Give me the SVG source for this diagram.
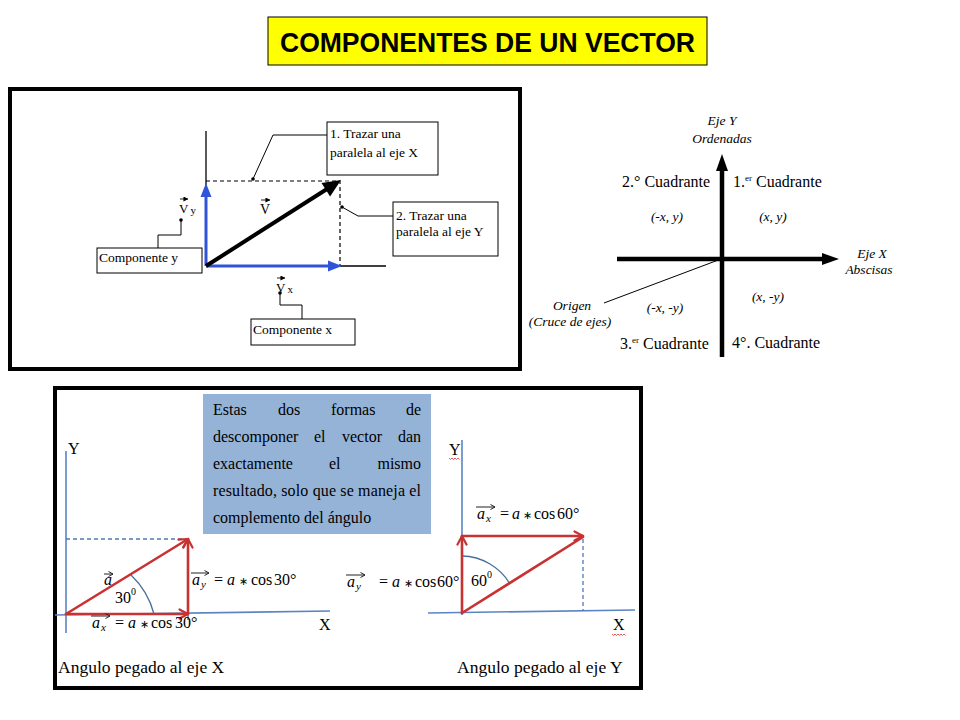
<svg xmlns="http://www.w3.org/2000/svg" width="960" height="720" viewBox="0 0 960 720">
<style>
.frame{fill:#fff;stroke:#000;stroke-width:4}
.box{fill:#fff;stroke:#000;stroke-width:1}
.lead{fill:none;stroke:#000;stroke-width:1}
.dash{fill:none;stroke:#000;stroke-width:1.2;stroke-dasharray:4 3}
.tm{font-family:"Liberation Serif","Times New Roman",serif;fill:#000}
.it{font-style:italic}
.st{font-family:"DejaVu Sans",sans-serif;font-size:11px}
.ax{stroke:#5b84c4;stroke-width:1.6;fill:none}
.bdash{stroke:#4f78b8;stroke-width:1.3;stroke-dasharray:4 3;fill:none}
.red{stroke:#c83232;stroke-width:2.6;fill:none;stroke-linecap:round}
.arc{stroke:#4a6f9a;stroke-width:1.3;fill:none}
.ovr{stroke:#222;stroke-width:1;fill:none}
.sq{stroke:#e03030;stroke-width:0.8;fill:none}
</style>
<defs>
<marker id="chev" viewBox="0 0 12 12" refX="10.5" refY="6" markerWidth="12" markerHeight="12" markerUnits="userSpaceOnUse" orient="auto">
<path d="M2,1.5 L10.5,6 L2,10.5" fill="none" stroke="#c83232" stroke-width="2.2" stroke-linecap="round" stroke-linejoin="round"/>
</marker>
<marker id="ov" viewBox="0 0 6 6" refX="5.5" refY="3" markerWidth="6" markerHeight="6" markerUnits="userSpaceOnUse" orient="auto">
<path d="M1,0.5 L5.5,3 L1,5.5" fill="none" stroke="#222" stroke-width="1"/>
</marker>
<marker id="ovf" viewBox="0 0 6 6" refX="5.5" refY="3" markerWidth="5" markerHeight="5" markerUnits="userSpaceOnUse" orient="auto">
<path d="M0,0 L6,3 L0,6 Z" fill="#000"/>
</marker>
</defs>
<rect width="960" height="720" fill="#fff"/>

<g id="title">
<rect x="268" y="17" width="439" height="48" fill="#ffff00" stroke="#000" stroke-width="1"/>
<text x="487.5" y="52" text-anchor="middle" font-family="'Liberation Sans',Arial,sans-serif" font-weight="bold" font-size="27" textLength="415" lengthAdjust="spacingAndGlyphs">COMPONENTES DE UN VECTOR</text>
</g>

<g id="panel-components">
<rect class="frame" x="10" y="89" width="510" height="280"/>
<line x1="206" y1="131" x2="206" y2="185" stroke="#000" stroke-width="1.3"/>
<line x1="340" y1="266" x2="386" y2="266" stroke="#000" stroke-width="1.3"/>
<path class="dash" d="M206,181 H340 V266"/>
<g id="vy">
<line x1="206" y1="266" x2="206" y2="195" stroke="#2f54d9" stroke-width="3"/>
<polygon points="206,183 200.5,197 211.5,197" fill="#2f54d9"/>
</g>
<g id="vx">
<line x1="206" y1="266" x2="330" y2="266" stroke="#2f54d9" stroke-width="3"/>
<polygon points="342,266 328,260.5 328,271.5" fill="#2f54d9"/>
</g>
<g id="v">
<line x1="206" y1="266" x2="327" y2="189" stroke="#000" stroke-width="4"/>
<polygon points="341,180 330.1,196.4 321.5,183" fill="#000"/>
</g>
<text class="tm" x="260" y="214" font-size="14">V</text>
<line class="ovr" x1="261" y1="200" x2="270" y2="200" marker-end="url(#ovf)"/>
<text class="tm" x="179" y="213" font-size="13">V<tspan font-size="11" dx="2" dy="1">y</tspan></text>
<line class="ovr" x1="180" y1="199" x2="188" y2="199" marker-end="url(#ovf)"/>
<text class="tm" x="276" y="292" font-size="13">V<tspan font-size="11" dx="2" dy="1">x</tspan></text>
<line class="ovr" x1="277" y1="278" x2="285" y2="278" marker-end="url(#ovf)"/>
<g id="note-compy">
<rect class="box" x="97" y="248" width="105" height="25"/>
<text class="tm" x="99" y="262" font-size="13.5">Componente y</text>
</g>
<g id="note-compx">
<rect class="box" x="251" y="319" width="104" height="26"/>
<text class="tm" x="253" y="334" font-size="13.5">Componente x</text>
</g>
<g id="note-1">
<rect class="box" x="327" y="122" width="111" height="53"/>
<text class="tm" x="330" y="138" font-size="13.5">1. Trazar una</text>
<text class="tm" x="330" y="157" font-size="13.5">paralela al eje X</text>
</g>
<g id="note-2">
<rect class="box" x="393" y="202" width="105" height="54"/>
<text class="tm" x="396" y="220" font-size="13.5">2. Trazar una</text>
<text class="tm" x="396" y="236" font-size="13.5">paralela al eje Y</text>
</g>
</g>

<g id="panel-quadrants">
<line x1="722" y1="357" x2="722" y2="168" stroke="#000" stroke-width="4.5"/>
<polygon points="722,154 716,171 728,171" fill="#000"/>
<line x1="617" y1="259" x2="825" y2="259" stroke="#000" stroke-width="4.5"/>
<polygon points="839,259 822,253 822,265" fill="#000"/>
<g class="tm it" font-size="13.5" text-anchor="middle">
<text x="722" y="125">Eje Y</text>
<text x="722" y="143">Ordenadas</text>
<text x="872" y="258">Eje X</text>
<text x="869" y="274">Abscisas</text>
<text x="572" y="310">Origen</text>
<text x="570" y="326">(Cruce de ejes)</text>
<text x="667" y="221">(-x, y)</text>
<text x="773" y="221">(x, y)</text>
<text x="665" y="312">(-x, -y)</text>
<text x="768" y="301">(x, -y)</text>
</g>
<g class="tm" font-size="16">
<text x="622" y="187">2.° Cuadrante</text>
<text x="733" y="187">1.<tspan font-size="9" dy="-6">er</tspan><tspan dy="6"> Cuadrante</tspan></text>
<text x="620" y="349">3.<tspan font-size="9" dy="-6">er</tspan><tspan dy="6"> Cuadrante</tspan></text>
<text x="732" y="348">4°. Cuadrante</text>
</g>
</g>

<g id="panel-methods">
<rect class="frame" x="55" y="388" width="586" height="300"/>
<g id="note-box">
<rect x="203" y="394" width="228" height="140" fill="#95b3d7"/>
<g class="tm" font-size="16" fill="#1a1a1a">
<text x="213" y="415">Estas</text><text x="278" y="415">dos</text><text x="331" y="415">formas</text><text x="421" y="415" text-anchor="end">de</text>
<text x="213" y="442">descomponer</text><text x="314" y="442">el</text><text x="342" y="442">vector</text><text x="421" y="442" text-anchor="end">dan</text>
<text x="213" y="469">exactamente</text><text x="329" y="469">el</text><text x="421" y="469" text-anchor="end">mismo</text>
<text x="213" y="496" textLength="208" lengthAdjust="spacing">resultado, solo que se maneja el</text>
<text x="213" y="523">complemento del ángulo</text>
</g>
</g>

<g id="graph-x">
<line class="ax" x1="66" y1="451" x2="66" y2="633"/>
<line class="ax" x1="55" y1="615" x2="330" y2="611"/>
<text class="tm" x="68" y="454" font-size="16">Y</text>
<text class="tm" x="319" y="630" font-size="16">X</text>
<path class="bdash" d="M66,539 H186"/>
<line class="ax" x1="188" y1="614" x2="188" y2="620"/>
<path class="arc" d="M131,575 A82,82 0 0 1 154,614"/>
<line class="red" x1="66" y1="614" x2="188" y2="539" marker-end="url(#chev)"/>
<line class="red" x1="66" y1="614" x2="188" y2="614" marker-end="url(#chev)"/>
<line class="red" x1="188" y1="614" x2="188" y2="539" marker-end="url(#chev)"/>
<text class="tm it" x="104" y="585" font-size="16">a</text>
<line class="ovr" x1="104" y1="574" x2="113" y2="574" marker-end="url(#ov)"/>
<text class="tm" x="115" y="603" font-size="16">30<tspan font-size="10" dy="-8">0</tspan></text>
<text class="tm" font-size="16" y="585"><tspan class="it" x="192">a</tspan><tspan class="it" font-size="11" x="201" dy="3">y</tspan><tspan x="214" dy="-3">=</tspan><tspan class="it" x="227">a</tspan><tspan class="st" x="239">∗</tspan><tspan x="251">cos</tspan><tspan x="274">30°</tspan></text>
<line class="ovr" x1="191" y1="573" x2="209" y2="573" marker-end="url(#ov)"/>
<text class="tm" font-size="16" y="628"><tspan class="it" x="92">a</tspan><tspan class="it" font-size="11" x="101" dy="3">x</tspan><tspan x="115" dy="-3">=</tspan><tspan class="it" x="128">a</tspan><tspan class="st" x="140">∗</tspan><tspan x="151">cos</tspan><tspan x="175">30°</tspan></text>
<line class="ovr" x1="91" y1="616" x2="110" y2="616" marker-end="url(#ov)"/>
<text class="tm" x="58" y="673" font-size="17.5">Angulo pegado al eje X</text>
</g>

<g id="graph-y">
<line class="ax" x1="462" y1="440" x2="462" y2="615"/>
<line class="ax" x1="428" y1="613" x2="635" y2="610"/>
<text class="tm" x="449" y="455" font-size="16">Y</text>
<path class="sq" d="M449,458 l1.5,1.5 l1.5,-1.5 l1.5,1.5 l1.5,-1.5 l1.5,1.5 l1.5,-1.5 l1.5,1.5"/>
<text class="tm" x="613" y="630" font-size="16">X</text>
<path class="sq" d="M612,634 l1.5,1.5 l1.5,-1.5 l1.5,1.5 l1.5,-1.5 l1.5,1.5 l1.5,-1.5 l1.5,1.5 l1.5,-1.5 l1.5,1.5"/>
<path class="bdash" d="M583,539 V611"/>
<path class="arc" d="M462,556 A57,57 0 0 1 510,584"/>
<line class="red" x1="462" y1="613" x2="583" y2="537"/>
<line class="red" x1="462" y1="613" x2="462" y2="536" marker-end="url(#chev)"/>
<line class="red" x1="462" y1="536" x2="583" y2="536" marker-end="url(#chev)"/>
<text class="tm" x="471" y="586" font-size="16">60<tspan font-size="10" dy="-8">0</tspan></text>
<text class="tm" font-size="16" y="587"><tspan class="it" x="347">a</tspan><tspan class="it" font-size="11" x="356" dy="3">y</tspan><tspan x="379" dy="-3">=</tspan><tspan class="it" x="392">a</tspan><tspan class="st" x="404">∗</tspan><tspan x="415">cos</tspan><tspan x="437">60°</tspan></text>
<line class="ovr" x1="346" y1="575" x2="365" y2="575" marker-end="url(#ov)"/>
<text class="tm" font-size="16" y="519"><tspan class="it" x="477">a</tspan><tspan class="it" font-size="11" x="486" dy="3">x</tspan><tspan x="500" dy="-3">=</tspan><tspan class="it" x="512">a</tspan><tspan class="st" x="523">∗</tspan><tspan x="534">cos</tspan><tspan x="557">60°</tspan></text>
<line class="ovr" x1="476" y1="507" x2="495" y2="507" marker-end="url(#ov)"/>
<text class="tm" x="457" y="673" font-size="17.5">Angulo pegado al eje Y</text>
</g>
</g>

<g id="connectors">
<path class="lead" d="M181,220 V235 H158 V248"/>
<circle cx="181" cy="220" r="1.8" fill="#000"/>
<path class="lead" d="M280,293 V305 H302 V319"/>
<circle cx="280" cy="293" r="1.8" fill="#000"/>
<path class="lead" d="M327,135 H273 L253,179"/>
<circle cx="253" cy="179" r="1.8" fill="#000"/>
<path class="lead" d="M393,216 H358 L342,207"/>
<circle cx="342" cy="207" r="1.8" fill="#000"/>
<line class="lead" x1="604" y1="303" x2="721" y2="259"/>
</g>
</svg>
